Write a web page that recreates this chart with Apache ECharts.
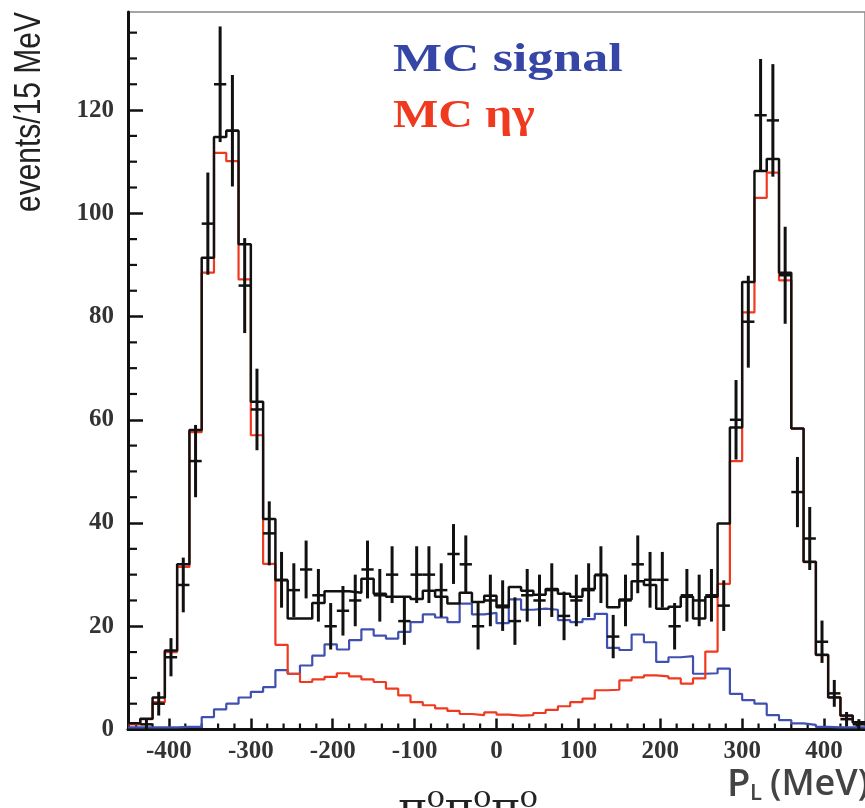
<!DOCTYPE html>
<html>
<head>
<meta charset="utf-8">
<script src="https://cdn.jsdelivr.net/npm/echarts@6/dist/echarts.min.js"></script>
<style>
html,body{margin:0;padding:0;background:#fff;}
#chart{width:865px;height:808px;}
</style>
</head>
<body>
<div id="chart"></div>
<script>
// ---- data (bins of 15 MeV) ----
const binEdges = [-450,-435,-420,-405,-390,-375,-360,-345,-330,-315,-300,-285,-270,-255,-240,-225,-210,-195,-180,-165,-150,-135,-120,-105,-90,-75,-60,-45,-30,-15,0,15,30,45,60,75,90,105,120,135,150,165,180,195,210,225,240,255,270,285,300,315,330,345,360,375,390,405,420,435,450];

const mcEtaGamma = [1.0,2.0,5.3,15.0,31.5,57.6,88.5,111.7,110.1,87.2,
  57.0,32.1,16.4,10.8,9.2,9.7,10.2,10.9,10.3,9.7,
  9.2,7.9,6.6,5.3,4.7,4.1,3.6,3.0,2.8,3.3,
  2.9,2.7,2.8,3.2,3.8,4.5,5.3,6.0,7.6,7.7,
  9.5,10.1,10.5,10.3,9.9,8.9,9.9,15.1,28.2,52.0,
  80.8,103.0,107.9,87.0,58.3,32.4,14.4,6.3,2.6,1.3];

const mcSignal = [0.4,0.4,0.4,0.4,0.5,0.5,2.4,3.9,5.0,6.2,
  7.3,8.2,11.5,10.8,12.4,14.3,16.5,15.5,17.3,19.4,
  18.2,17.6,18.9,20.8,22.3,21.7,20.8,24.4,22.3,22.6,
  20.6,25.2,23.2,23.4,23.2,21.2,20.8,21.4,22.4,15.8,
  15.4,18.4,16.9,13.1,14.0,14.2,10.8,10.9,11.8,6.9,
  5.7,5.0,2.8,1.8,1.2,0.9,0.5,0.4,0.4,0.4];

const mcTotal = [1.2,2.1,6.2,15.3,32.0,58.0,91.4,114.8,116.0,94.0,
  63.5,40.8,28.9,21.5,21.5,24.5,26.8,26.8,26.5,29.2,
  26.3,25.7,25.7,25.3,26.9,25.7,24.4,26.5,24.7,25.9,
  23.7,27.6,26.9,26.1,27.2,26.3,25.7,27.2,29.9,23.7,
  25.2,28.7,28.0,23.4,23.8,25.7,21.5,25.7,39.9,58.5,
  86.7,108.2,110.5,88.5,58.3,32.5,14.5,6.2,2.7,1.4];

const dataCounts = [0,1,5,14,28,52,98,125,116,86,
  62,38,29,27,31,26,20,23,25,31,
  26,30,21,30,30,27,34,32,20,25,
  24,21,26,25,27,22,25,27,30,18,
  25,32,29,29,20,26,25,26,24,60,
  79,119,118,88,46,37,17,7,2,1];

const dataErrors = [0,1.0,2.3,3.7,5.3,7.0,9.9,11.2,10.8,9.2,
  7.9,6.2,5.4,5.2,5.6,5.1,4.5,4.8,5.0,5.6,
  5.1,5.5,4.6,5.5,5.5,5.2,5.8,5.6,4.5,5.0,
  4.9,4.6,5.1,5.0,5.2,4.7,5.0,5.2,5.5,4.2,
  5.0,5.6,5.4,5.4,4.5,5.1,5.0,5.1,4.9,7.7,
  8.9,10.9,10.9,9.4,6.8,6.1,4.1,2.6,1.4,1.0];

const xTickLabels = [-400,-300,-200,-100,0,100,200,300,400];
const xMinorTicks = [-440,-420,-380,-360,-340,-320,-280,-260,-240,-220,-180,-160,-140,-120,-80,-60,-40,-20,20,40,60,80,120,140,160,180,220,240,260,280,320,340,360,380,420,440];
const yTickLabels = [0,20,40,60,80,100,120];
const yMinorTicks = [5,10,15,25,30,35,45,50,55,65,70,75,85,90,95,105,110,115,125,130,135];

const X_MIN = -450, X_MAX = 450, Y_MIN = 0, Y_MAX = 139;

// ---- build step data ----
function stepData(vals){
  const out = [];
  for (let k = 0; k < vals.length; k++) out.push([binEdges[k], vals[k]]);
  out.push([binEdges[vals.length], vals[vals.length-1]]);
  return out;
}
const pointData = [];
for (let k = 0; k < dataCounts.length; k++){
  if (dataCounts[k] <= 0) continue;
  pointData.push([(binEdges[k]+binEdges[k+1])/2, dataCounts[k], dataErrors[k], binEdges[k], binEdges[k+1]]);
}
const minorTickData = xMinorTicks.map(v => [v, Y_MIN, 0]).concat(yMinorTicks.map(v => [X_MIN, v, 1]));

const chart = echarts.init(document.getElementById('chart'), null, {renderer:'canvas'});
const tickFont = {fontFamily:"'Liberation Serif','DejaVu Serif',serif", fontWeight:'bold', fontSize:25, color:'#333'};

const option = {
  animation:false,
  backgroundColor:'#fff',
  grid:{left:128, top:12, width:737, height:717.5, show:true, borderColor:'#888', borderWidth:1.5, backgroundColor:'transparent'},
  xAxis:{
    type:'value', min:X_MIN, max:X_MAX, position:'bottom',
    axisLine:{show:true, onZero:false, lineStyle:{color:'#111', width:3}},
    axisTick:{show:true, inside:true, length:11, customValues:xTickLabels, lineStyle:{color:'#111', width:2.5}},
    axisLabel:{show:true, customValues:xTickLabels, margin:10, ...tickFont},
    splitLine:{show:false}
  },
  yAxis:{
    type:'value', min:Y_MIN, max:Y_MAX, position:'left',
    axisLine:{show:true, onZero:false, lineStyle:{color:'#111', width:3}},
    axisTick:{show:true, inside:true, length:15, customValues:yTickLabels, lineStyle:{color:'#111', width:2.5}},
    axisLabel:{show:true, customValues:yTickLabels, margin:14, ...tickFont},
    splitLine:{show:false}
  },
  series:[
    {name:'minor ticks', type:'custom', silent:true, z:1, data:minorTickData,
      renderItem:function(params, api){
        const p = api.coord([api.value(0), api.value(1)]);
        const isY = api.value(2) === 1;
        const shape = isY ? {x1:p[0], y1:p[1], x2:p[0]+9, y2:p[1]} : {x1:p[0], y1:p[1], x2:p[0], y2:p[1]-6};
        return {type:'line', shape:shape, style:{stroke:'#111', lineWidth:2.2}};
      }
    },
    {name:'MC signal', type:'line', step:'end', showSymbol:false, symbol:'none', data:stepData(mcSignal),
      lineStyle:{color:'#4050b0', width:2.2}, z:2},
    {name:'MC \u03b7\u03b3', type:'line', step:'end', showSymbol:false, symbol:'none', data:stepData(mcEtaGamma),
      lineStyle:{color:'#f03a20', width:2.2}, z:3},
    {name:'MC total', type:'line', step:'end', showSymbol:false, symbol:'none', data:stepData(mcTotal),
      lineStyle:{color:'#111', width:2.5}, z:4},
    {name:'data', type:'custom', z:5, data:pointData,
      renderItem:function(params, api){
        const xc = api.value(0), y = api.value(1), e = api.value(2), xl = api.value(3), xr = api.value(4);
        const pTop = api.coord([xc, y+e]);
        const pBot = api.coord([xc, y-e]);
        const pL = api.coord([xl, y]);
        const pR = api.coord([xr, y]);
        return {type:'group', children:[
          {type:'line', shape:{x1:pTop[0], y1:pTop[1], x2:pBot[0], y2:pBot[1]}, style:{stroke:'#111', lineWidth:3}},
          {type:'line', shape:{x1:pL[0], y1:pL[1], x2:pR[0], y2:pR[1]}, style:{stroke:'#111', lineWidth:2.5}}
        ]};
      }
    }
  ],
  graphic:[
    {type:'text', x:393, y:61, scaleX:1.3, style:{text:'MC signal', fill:'#3646a6', font:"bold 40px 'Liberation Serif','DejaVu Serif',serif", textAlign:'left', textVerticalAlign:'middle'}},
    {type:'text', x:393, y:117, scaleX:1.2, style:{text:'MC \u03b7\u03b3', fill:'#f03a20', font:"bold 40px 'Liberation Serif','DejaVu Serif',serif", textAlign:'left', textVerticalAlign:'middle'}},
    {type:'text', x:30, y:112, rotation:Math.PI/2, scaleY:1.25, style:{text:'events/15 MeV', fill:'#222', font:"30px 'Liberation Sans','DejaVu Sans',sans-serif", textAlign:'center', textVerticalAlign:'middle'}},
    {type:'text', x:727, y:785, style:{text:'P', fill:'#444', font:"600 38px 'Open Sans','Noto Sans',sans-serif", textAlign:'left', textVerticalAlign:'middle'}},
    {type:'text', x:750, y:794, style:{text:'L', fill:'#444', font:"600 22px 'Open Sans','Noto Sans',sans-serif", textAlign:'left', textVerticalAlign:'middle'}},
    {type:'text', x:770, y:785, style:{text:'(MeV)', fill:'#444', font:"600 36px 'Open Sans','Noto Sans',sans-serif", textAlign:'left', textVerticalAlign:'middle'}},
    {type:'text', x:398, y:830, scaleX:1.1, style:{text:'\u03c0\u2070\u03c0\u2070\u03c0\u2070', fill:'#222', font:"40px 'DejaVu Serif','Liberation Serif',serif", textAlign:'left', textVerticalAlign:'bottom'}}
  ]
};
chart.setOption(option);
</script>
</body>
</html>
